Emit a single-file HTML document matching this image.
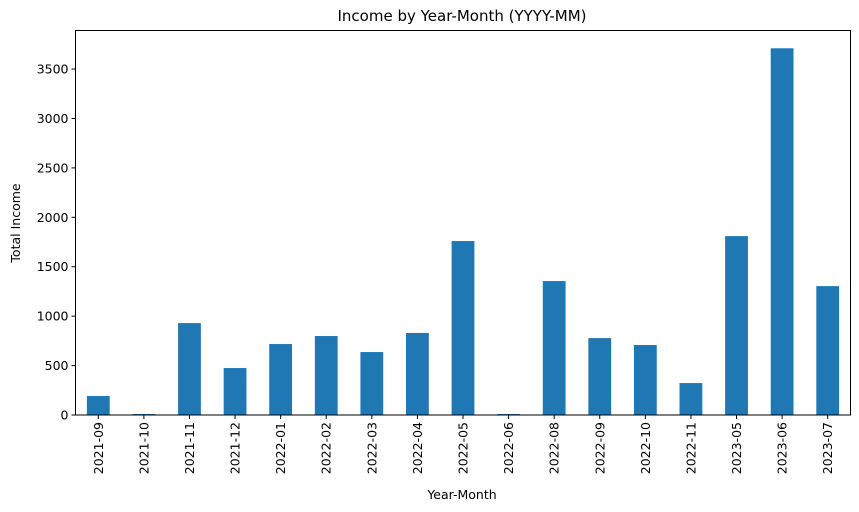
<!DOCTYPE html>
<html><head><meta charset="utf-8"><style>
body{margin:0;background:#fff;}
svg{display:block;font-family:"DejaVu Sans","Liberation Sans",sans-serif;}
</style></head><body>
<svg id="chart" width="859" height="512">
<text x="462" y="21" text-anchor="middle" font-size="15">Income by Year-Month (YYYY-MM)</text>
<text x="462" y="499" text-anchor="middle" font-size="12.5">Year-Month</text>
<text transform="translate(20,223) rotate(-90)" text-anchor="middle" font-size="12.5">Total Income</text>
<g id="bars"></g><g id="xt"></g><g id="yt"></g>
<rect x="75.5" y="30.5" width="775" height="384.5" fill="none" stroke="#000" stroke-width="1"/>
</svg>
<script>
const categories=["2021-09","2021-10","2021-11","2021-12","2022-01","2022-02","2022-03","2022-04","2022-05","2022-06","2022-08","2022-09","2022-10","2022-11","2023-05","2023-06","2023-07"];
const incomeValues=[192,10,930,475,718,799,637,830,1760,10,1355,778,708,323,1810,3710,1304];
const yTicks=[0,500,1000,1500,2000,2500,3000,3500];
const NS="http://www.w3.org/2000/svg";
const L=75.5,R=850.5,T=30.5,B=415,yMax=3890;
const step=(R-L)/categories.length;
const xPos=i=>L+step*(i+0.5);
const yPos=v=>B-(v/yMax)*(B-T);
function mk(t,a){const e=document.createElementNS(NS,t);for(const k in a)e.setAttribute(k,a[k]);return e;}
const bars=document.getElementById('bars'),xt=document.getElementById('xt'),yt=document.getElementById('yt');
categories.forEach((c,i)=>{
 const v=incomeValues[i];
 const r=mk('rect',{x:xPos(i)-step*0.25,y:yPos(v),width:step*0.5,height:B-yPos(v),fill:'#1f77b4'});
 
 
 bars.appendChild(r);
 const tk=mk('line',{x1:xPos(i),x2:xPos(i),y1:B,y2:B+4,stroke:'#000'});
 
 
 xt.appendChild(tk);
 const tx=mk('text',{transform:`translate(${xPos(i)+4.5},${B+7}) rotate(-90)`,'text-anchor':'end','font-size':'12.5'});
 tx.textContent=c;
 
 
 xt.appendChild(tx);
});
yTicks.forEach(v=>{
 const tk=mk('line',{x1:L-4,x2:L,y1:yPos(v),y2:yPos(v),stroke:'#000'});
 
 
 yt.appendChild(tk);
 const tx=mk('text',{x:L-7,y:yPos(v)+4.5,'text-anchor':'end','font-size':'12.5'});
 tx.textContent=v;
 
 
 yt.appendChild(tx);
});
</script>
</body></html>
